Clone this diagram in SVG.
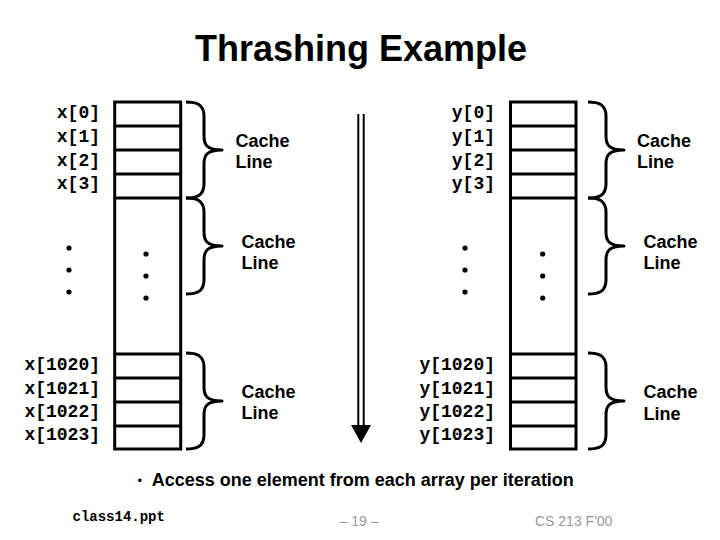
<svg xmlns="http://www.w3.org/2000/svg" width="720" height="540" viewBox="0 0 720 540">
<style>
.box{fill:none;stroke:#000;stroke-width:3}
.row{stroke:#000;stroke-width:3}
.brace{fill:none;stroke:#000;stroke-width:3;stroke-linejoin:round}
.mono{font-family:"Liberation Mono","Courier New",monospace;font-weight:bold;fill:#000;text-anchor:end;font-size:18px}
.cl{font-family:"Liberation Sans",Arial,sans-serif;font-weight:bold;font-size:18px;fill:#000}
.dot{fill:#000}
</style>
<defs>
<path id="br" class="brace" d="M0,0 C10,0 18,2 18,14 L18,34 C18,42 20,48 36,48 C20,48 18,54 18,62 L18,82 C18,94 10,96 0,96"/>
</defs>
<rect width="720" height="540" fill="#fff"/>
<g id="title">
<text x="361" y="61" text-anchor="middle" style="font-family:'Liberation Sans',Arial,sans-serif;font-weight:bold;font-size:36px">Thrashing Example</text>
</g>
<g id="array-x">
<rect class="box" x="114.7" y="102" width="66" height="347"/>
<line class="row" x1="114.7" y1="126" x2="180.7" y2="126"/>
<line class="row" x1="114.7" y1="150" x2="180.7" y2="150"/>
<line class="row" x1="114.7" y1="174" x2="180.7" y2="174"/>
<line class="row" x1="114.7" y1="198" x2="180.7" y2="198"/>
<line class="row" x1="114.7" y1="354" x2="180.7" y2="354"/>
<line class="row" x1="114.7" y1="378" x2="180.7" y2="378"/>
<line class="row" x1="114.7" y1="402" x2="180.7" y2="402"/>
<line class="row" x1="114.7" y1="426" x2="180.7" y2="426"/>
<text class="mono" x="100" y="118">x[0]</text>
<text class="mono" x="100" y="142">x[1]</text>
<text class="mono" x="100" y="165.5">x[2]</text>
<text class="mono" x="100" y="189">x[3]</text>
<text class="mono" x="100" y="370">x[1020]</text>
<text class="mono" x="100" y="393.5">x[1021]</text>
<text class="mono" x="100" y="417">x[1022]</text>
<text class="mono" x="100" y="440">x[1023]</text>
<circle class="dot" cx="69" cy="248" r="2.6"/>
<circle class="dot" cx="69" cy="270" r="2.6"/>
<circle class="dot" cx="69" cy="292" r="2.6"/>
<circle class="dot" cx="146" cy="254" r="2.6"/>
<circle class="dot" cx="146" cy="276" r="2.6"/>
<circle class="dot" cx="146" cy="298" r="2.6"/>
</g>
<g id="array-y">
<rect class="box" x="510.5" y="102" width="65.5" height="347"/>
<line class="row" x1="510.5" y1="126" x2="576" y2="126"/>
<line class="row" x1="510.5" y1="150" x2="576" y2="150"/>
<line class="row" x1="510.5" y1="174" x2="576" y2="174"/>
<line class="row" x1="510.5" y1="198" x2="576" y2="198"/>
<line class="row" x1="510.5" y1="354" x2="576" y2="354"/>
<line class="row" x1="510.5" y1="378" x2="576" y2="378"/>
<line class="row" x1="510.5" y1="402" x2="576" y2="402"/>
<line class="row" x1="510.5" y1="426" x2="576" y2="426"/>
<text class="mono" x="495" y="118">y[0]</text>
<text class="mono" x="495" y="142">y[1]</text>
<text class="mono" x="495" y="165.5">y[2]</text>
<text class="mono" x="495" y="189">y[3]</text>
<text class="mono" x="495" y="370">y[1020]</text>
<text class="mono" x="495" y="393.5">y[1021]</text>
<text class="mono" x="495" y="417">y[1022]</text>
<text class="mono" x="495" y="440">y[1023]</text>
<circle class="dot" cx="465" cy="248" r="2.6"/>
<circle class="dot" cx="465" cy="270" r="2.6"/>
<circle class="dot" cx="465" cy="292" r="2.6"/>
<circle class="dot" cx="542.7" cy="254" r="2.6"/>
<circle class="dot" cx="542.7" cy="276" r="2.6"/>
<circle class="dot" cx="542.7" cy="298" r="2.6"/>
</g>
<g id="cache-lines-x">
<use href="#br" x="186" y="102"/>
<use href="#br" x="186" y="198"/>
<use href="#br" x="186" y="353"/>
<text class="cl" x="235.5" y="147">Cache</text>
<text class="cl" x="235.5" y="168">Line</text>
<text class="cl" x="241.5" y="248">Cache</text>
<text class="cl" x="241.5" y="269">Line</text>
<text class="cl" x="241.5" y="398">Cache</text>
<text class="cl" x="241.5" y="419">Line</text>
</g>
<g id="cache-lines-y">
<use href="#br" x="588" y="102"/>
<use href="#br" x="588" y="198"/>
<use href="#br" x="588" y="353"/>
<text class="cl" x="637" y="147">Cache</text>
<text class="cl" x="637" y="168">Line</text>
<text class="cl" x="643.5" y="248">Cache</text>
<text class="cl" x="643.5" y="269">Line</text>
<text class="cl" x="643.5" y="398">Cache</text>
<text class="cl" x="643.5" y="420">Line</text>
</g>
<g id="connectors">
<line x1="358.3" y1="114" x2="358.3" y2="427" stroke="#000" stroke-width="2"/>
<line x1="363.7" y1="114" x2="363.7" y2="427" stroke="#000" stroke-width="2"/>
<polygon points="351,425 371,425 361,443" fill="#000"/>
</g>
<g id="bullet">
<text x="137.5" y="485" style="font-family:'Liberation Sans',Arial,sans-serif;font-size:13px">•</text>
<text x="151.7" y="486" style="font-family:'Liberation Sans',Arial,sans-serif;font-weight:bold;font-size:18px">Access one element from each array per iteration</text>
</g>
<g id="footer">
<text x="72.5" y="521" style="font-family:'Liberation Mono','Courier New',monospace;font-weight:bold;font-size:14px">class14.ppt</text>
<text x="359" y="526" text-anchor="middle" style="font-family:'Liberation Sans',Arial,sans-serif;font-size:14px;fill:#999">– 19 –</text>
<text x="535" y="526" style="font-family:'Liberation Sans',Arial,sans-serif;font-size:14px;fill:#999">CS 213 F'00</text>
</g>
</svg>
